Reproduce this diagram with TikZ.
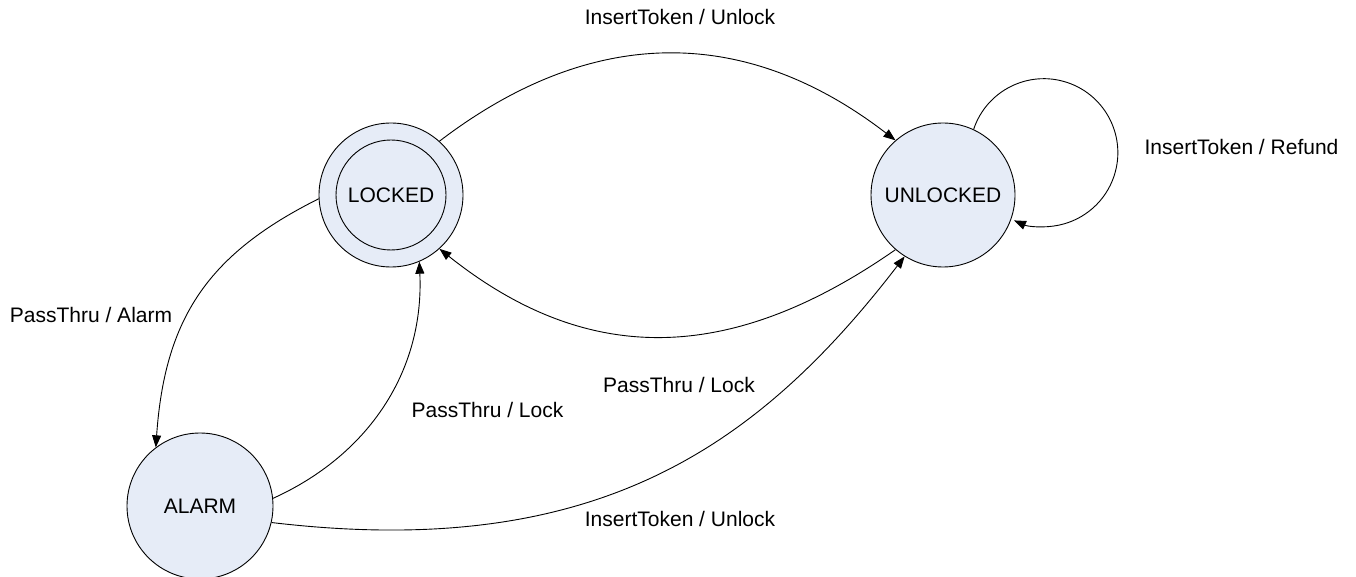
\documentclass[tikz,border=0pt]{standalone}
\usepackage{fontspec}
\setmainfont{Liberation Sans}
\usetikzlibrary{arrows.meta}
\definecolor{statefill}{RGB}{230,236,247}
\begin{document}
\begin{tikzpicture}[x=1pt,y=1pt,
  state/.style={circle,draw=black,line width=0.9pt,fill=statefill,inner sep=0pt,minimum size=144pt,font=\fontsize{21}{25}\selectfont},
  innerstate/.style={circle,draw=black,line width=0.9pt,fill=statefill,inner sep=0pt,minimum size=110pt,font=\fontsize{21}{25}\selectfont},
  lbl/.style={inner sep=0pt,font=\fontsize{21}{25}\selectfont},
  edge/.style={draw=black,line width=0.9pt,-{Triangle[length=12pt,width=9pt]}}]
\useasboundingbox (0,0) rectangle (1356,-577);
\node[state] (L) at (391,-195) {};
\node[innerstate] (Li) at (391,-195) {LOCKED};
\node[state] (U) at (943,-195) {UNLOCKED};
\node[state,minimum size=146pt] (A) at (200,-506) {ALARM};
% edges
\draw[edge] (L.48) .. controls +(152,116) and +(-151,116) .. (U.131);
\draw[edge] (U.229) .. controls +(-165,-115) and +(148,-118) .. (L.312);
\draw[edge] (L.183) .. controls +(-110,-55) and +(9,130) .. (A.127);
\draw[edge] (A.6) .. controls +(95,43) and +(5,-110) .. (L.293);
\draw[edge] (A.-13) .. controls +(320,-38) and +(-150,-195) .. (U.238);
\draw[edge] (U.65) arc[start angle=161.6,end angle=-113.8,radius=74];
% labels
\node[lbl] (l1) at (680,-17) {InsertToken / Unlock};
\node[lbl] (l2) at (1241.5,-147) {InsertToken / Refund};
\node[lbl] (l3) at (91,-315) {PassThru / Alarm};
\node[lbl] (l4) at (487.5,-410) {PassThru / Lock};
\node[lbl] (l5) at (679,-385) {PassThru / Lock};
\node[lbl] (l6) at (680,-519) {InsertToken / Unlock};
\end{tikzpicture}
\end{document}
